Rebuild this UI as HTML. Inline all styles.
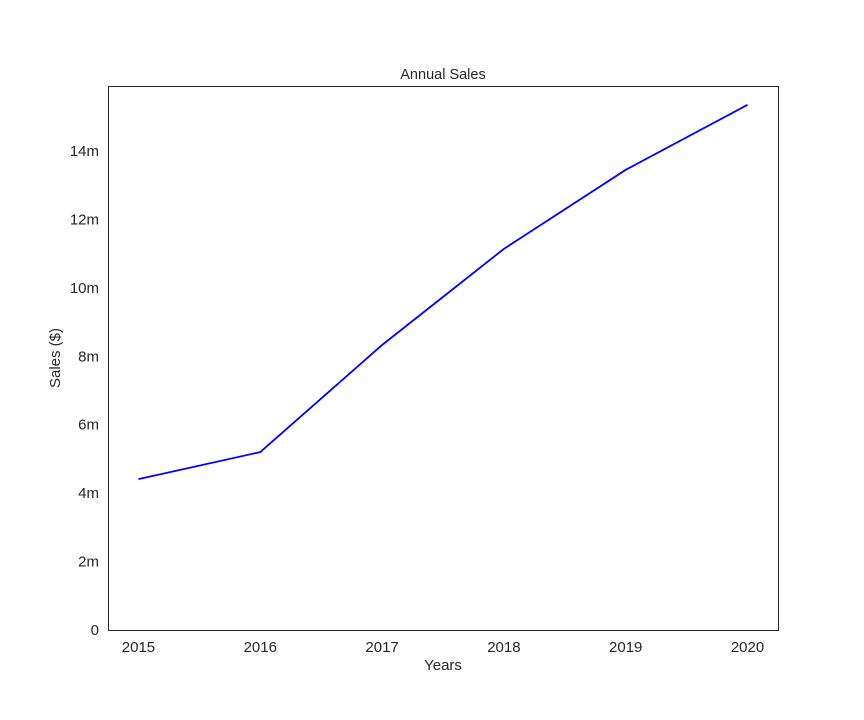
<!DOCTYPE html>
<html><head><meta charset="utf-8"><style>
body{margin:0;background:#fff;}
svg{display:block;font-family:"Liberation Sans","DejaVu Sans",sans-serif;}
</style></head><body>
<svg id="chart" width="864" height="720">
<rect width="864" height="720" fill="#fff"/>
<text x="443" y="79" text-anchor="middle" font-size="14.5" fill="#262626">Annual Sales</text>
<text x="443" y="670" text-anchor="middle" font-size="15" fill="#262626">Years</text>
<text transform="translate(60,358) rotate(-90)" text-anchor="middle" font-size="15" fill="#262626">Sales ($)</text>
<g id="xticks"></g><g id="yticks"></g>
<path id="line" fill="none" stroke="#0000ff" stroke-width="1.8"/>
<rect x="108.5" y="86.5" width="670" height="544" fill="none" stroke="#262626" stroke-width="1"/>
</svg>
<script>
const years = [2015, 2016, 2017, 2018, 2019, 2020];
const sales = [4.41, 5.2, 8.33, 11.14, 13.45, 15.35];
const yTicks = [0, 2, 4, 6, 8, 10, 12, 14];
const yTickLabels = ["0", "2m", "4m", "6m", "8m", "10m", "12m", "14m"];
const L=108, R=778, T=86, B=630;
const xMin=2014.75, xMax=2020.25, yMin=0, yMax=15.9;
const xs=v=>L+(v-xMin)/(xMax-xMin)*(R-L);
const ys=v=>B-(v-yMin)/(yMax-yMin)*(B-T);
const NS="http://www.w3.org/2000/svg";
const xg=document.getElementById('xticks'), yg=document.getElementById('yticks');
years.forEach(y=>{
  const t=document.createElementNS(NS,'text');
  t.setAttribute('x',xs(y));t.setAttribute('y',652);t.setAttribute('text-anchor','middle');
  t.setAttribute('font-size','15');t.setAttribute('fill','#262626');t.textContent=y;
  
  
  xg.appendChild(t);
});
yTicks.forEach((v,i)=>{
  const t=document.createElementNS(NS,'text');
  t.setAttribute('x',99);t.setAttribute('y',ys(v)+5);t.setAttribute('text-anchor','end');
  t.setAttribute('font-size','15');t.setAttribute('fill','#262626');t.textContent=yTickLabels[i];
  
  
  yg.appendChild(t);
});
document.getElementById('line').setAttribute('d',years.map((y,i)=>(i?'L':'M')+xs(y)+','+ys(sales[i])).join(' '));
</script>
</body></html>
